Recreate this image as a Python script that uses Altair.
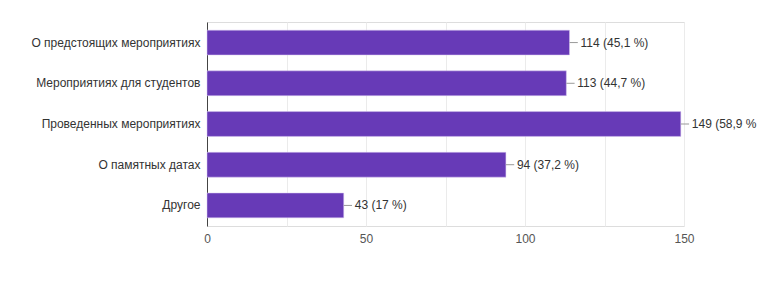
import altair as alt
import pandas as pd

categories = [
    "О предстоящих мероприятиях",
    "Мероприятиях для студентов",
    "Проведенных мероприятиях",
    "О памятных датах",
    "Другое",
]
values = [114, 113, 149, 94, 43]
labels = ["114 (45,1 %)", "113 (44,7 %)", "149 (58,9 %", "94 (37,2 %)", "43 (17 %)"]

df = pd.DataFrame({"cat": categories, "v": values, "lab": labels})

FONT = "Liberation Sans"
y = alt.Y(
    "cat:N",
    sort=categories,
    title=None,
    scale=alt.Scale(paddingInner=0.39, paddingOuter=0.2),
    axis=alt.Axis(
        domainColor="#444", domainWidth=1, ticks=False, labelPadding=7,
        labelFont=FONT, labelFontSize=12, labelColor="#333", labelLimit=300,
    ),
)
x = alt.X(
    "v:Q",
    title=None,
    scale=alt.Scale(domain=[0, 150], nice=False),
    axis=alt.Axis(
        values=[0, 25, 50, 75, 100, 125, 150],
        labelExpr="datum.value % 50 == 0 ? datum.label : ''",
        labelFlush=False,
        domain=False, ticks=False, labelPadding=7,
        labelFont=FONT, labelFontSize=12, labelColor="#555",
        gridColor="#ebebeb", gridWidth=1,
    ),
)

base = alt.Chart(df)
bars = base.mark_bar(color="#673ab7", stroke="#d9c8f0", strokeWidth=0.5).encode(y=y, x=x)
leader = base.transform_calculate(v2="datum.v + 2.6").mark_rule(color="#999", strokeWidth=1).encode(
    y=alt.Y("cat:N", sort=categories), x="v:Q", x2="v2:Q"
)
text = base.mark_text(align="left", baseline="middle", dx=11, font=FONT, fontSize=12, color="#333").encode(
    y=alt.Y("cat:N", sort=categories), x="v:Q", text="lab:N"
)

chart = (
    alt.layer(bars, leader, text)
    .properties(width=477, height=204, autosize=alt.AutoSizeParams(type="none"),
                padding={"left": 207, "top": 22, "right": 78, "bottom": 55})
    .configure_view(stroke="#ebebeb")
    .configure(background="white")
)

chart.save("out.html", embed_options={"renderer": "svg", "actions": False})
